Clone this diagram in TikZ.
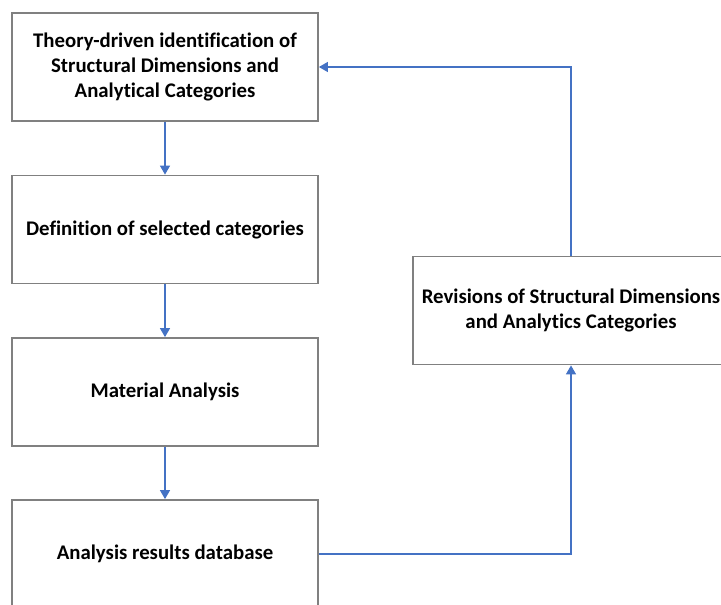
\documentclass[tikz,border=0pt]{standalone}
\usepackage{fontspec}
\setmainfont{Carlito}[Ligatures=NoCommon]
\usepackage{tikz}
\usetikzlibrary{arrows.meta}

\begin{document}
\begin{tikzpicture}[x=1pt, y=-1pt,
	stagebox/.style={font=\bfseries\fontsize{20.8}{25}\selectfont, draw=black!50, line width=1.8pt, fill=white, minimum width=306pt, minimum height=108pt, inner sep=0, align=center},
	flow/.style={draw={rgb,255:red,68;green,114;blue,196}, line width=1.4pt, -{Triangle[length=9pt,width=10pt]}}
]
\useasboundingbox (0,0) rectangle (721,605);
%left column
\node[stagebox] (s1) at (165,67) {Theory-driven identification of\\Structural Dimensions and\\Analytical Categories};
\node[stagebox] (s2) at (165,229.5) {Definition of selected categories};
\node[stagebox] (s3) at (165,392) {Material Analysis};
\node[stagebox] (s4) at (165,554) {Analysis results database};
%right box
\node[stagebox, minimum width=316pt] (rev) at (571,310.5) {Revisions of Structural Dimensions\\and Analytics Categories};

\draw[flow] (s1) -- (s2);
\draw[flow] (s2) -- (s3);
\draw[flow] (s3) -- (s4);
\draw[flow] (s4) -| (rev);
\draw[flow] (rev) |- (s1);
\end{tikzpicture}
\end{document}
